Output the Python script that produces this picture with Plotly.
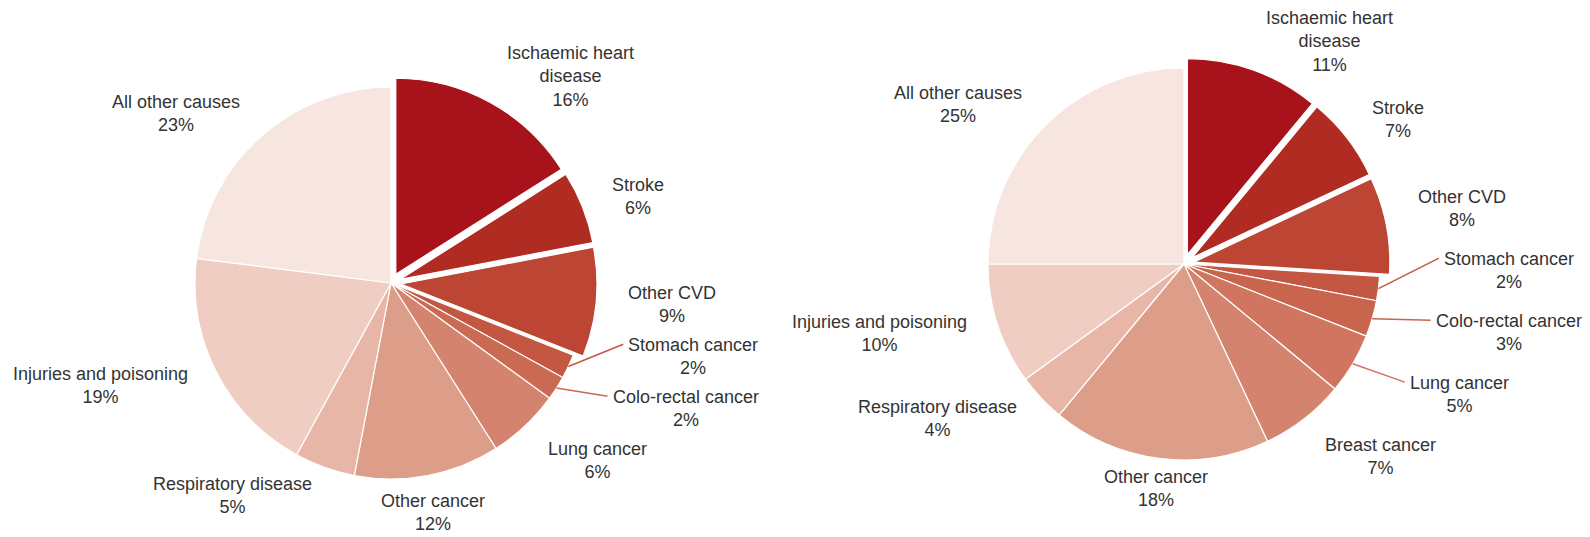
import math
import plotly.graph_objects as go

# ---------------- data ----------------
left_causes = ["Ischaemic heart disease", "Stroke", "Other CVD", "Stomach cancer",
               "Colo-rectal cancer", "Lung cancer", "Other cancer", "Respiratory disease",
               "Injuries and poisoning", "All other causes"]
left_values = [16, 6, 9, 2, 2, 6, 12, 5, 19, 23]

right_causes = ["Ischaemic heart disease", "Stroke", "Other CVD", "Stomach cancer",
                "Colo-rectal cancer", "Lung cancer", "Breast cancer", "Other cancer",
                "Respiratory disease", "Injuries and poisoning", "All other causes"]
right_values = [11, 7, 8, 2, 3, 5, 7, 18, 4, 10, 25]

pulled_causes = ["Ischaemic heart disease", "Stroke", "Other CVD"]

# ---------------- styles ----------------
cause_colors = {
    "Ischaemic heart disease": "#A8121A",
    "Stroke": "#B02B22",
    "Other CVD": "#BC4533",
    "Stomach cancer": "#C45741",
    "Colo-rectal cancer": "#C9644D",
    "Lung cancer": "#CF7560",
    "Breast cancer": "#D4846E",
    "Other cancer": "#DD9E89",
    "Respiratory disease": "#E8B6A6",
    "Injuries and poisoning": "#EFCDC2",
    "All other causes": "#F7E6E0",
}
left_colors_override = {"Colo-rectal cancer": "#CB6A52", "Lung cancer": "#D4846E"}
display_text = {"Ischaemic heart disease": "Ischaemic heart<br>disease"}

W, H = 1590, 537
PULL = 0.051
D = 30          # label distance from the pie edge
LINE = 24       # label line height
FONT = dict(family="Liberation Sans, Arial, Helvetica, sans-serif", size=18, color="#333333")

pies = [
    dict(causes=left_causes, values=left_values, cx=391, cy=283, R=196,
         override=left_colors_override, pad=4),
    dict(causes=right_causes, values=right_values, cx=1184, cy=264, R=196,
         override={}, pad=14),
]


def distribute(items, top, bottom, pad):
    """Spread labels on one side vertically so that they do not overlap."""
    items = sorted(items, key=lambda it: it["nat_y"])
    groups = [[it] for it in items]

    def gap(a, b):
        return (a["h"] + b["h"]) / 2 + pad

    def place(g):
        offs = [0.0]
        for a, b in zip(g, g[1:]):
            offs.append(offs[-1] + gap(a, b))
        start = sum(it["nat_y"] - o for it, o in zip(g, offs)) / len(g)
        start = max(start, top + g[0]["h"] / 2)
        start = min(start, bottom - g[-1]["h"] / 2 - offs[-1])
        for it, o in zip(g, offs):
            it["y"] = start + o

    changed = True
    while changed:
        changed = False
        for g in groups:
            place(g)
        for i in range(len(groups) - 1):
            a, b = groups[i][-1], groups[i + 1][0]
            if b["y"] - a["y"] < gap(a, b) - 0.01:
                groups[i] = groups[i] + groups[i + 1]
                del groups[i + 1]
                changed = True
                break
    for g in groups:
        for it in g:
            it["grouped"] = len(g) > 1
    return items


fig = go.Figure()
annotations = []
shapes = []

for pie in pies:
    causes, values = pie["causes"], pie["values"]
    cx, cy, R = pie["cx"], pie["cy"], pie["R"]
    colors = [pie["override"].get(c, cause_colors[c]) for c in causes]
    pulls = [PULL if c in pulled_causes else 0 for c in causes]
    half = R * (1 + PULL)
    fig.add_trace(go.Pie(
        labels=causes, values=values, sort=False, direction="clockwise", rotation=0,
        pull=pulls, textinfo="none", showlegend=False,
        marker=dict(colors=colors, line=dict(color="white", width=1.2)),
        domain=dict(x=[(cx - half) / W, (cx + half) / W],
                    y=[1 - (cy + half) / H, 1 - (cy - half) / H]),
        hovertemplate="%{label}: %{value}%<extra></extra>",
    ))

    total = sum(values)
    cum = 0
    items = []
    for c, v, p, col in zip(causes, values, pulls, colors):
        mid = (cum + v / 2) / total * 2 * math.pi
        cum += v
        s, k = math.sin(mid), -math.cos(mid)
        off = p * R
        ox, oy = cx + off * s, cy + off * k
        text = display_text.get(c, c) + "<br>" + f"{v}%"
        n = text.count("<br>") + 1
        items.append(dict(cause=c, value=v, s=s, k=k, ox=ox, oy=oy, color=col,
                          text=text, n=n, h=n * LINE,
                          nat_x=ox + (R + D) * s, nat_y=oy + (R + D) * k))

    right_side = [it for it in items if it["s"] >= 0]
    left_side = [it for it in items if it["s"] < 0]
    distribute(right_side, 0, H + 2, pie["pad"])
    distribute(left_side, 0, H + 2, pie["pad"])

    for it in items:
        s = it["s"]
        connector = it["value"] <= 5 and it["grouped"]
        if connector:
            x = it["ox"] + (R + D + 34) * s
        else:
            x = it["nat_x"]
        y = it["y"]
        if abs(s) < 0.3:
            xanchor = "center"
        elif s > 0:
            xanchor = "left"
        else:
            xanchor = "right"
        annotations.append(dict(
            x=x / W, y=1 - y / H, xref="paper", yref="paper", text=it["text"],
            showarrow=False, xanchor=xanchor, yanchor="middle", align="center",
            font=FONT))
        if connector:
            sx, sy = it["ox"] + R * s, it["oy"] + R * it["k"]
            ex = x - 3 if s > 0 else x + 3
            ey = y - (it["n"] - 1) * LINE / 2
            shapes.append(dict(type="line", xref="paper", yref="paper",
                               x0=sx / W, y0=1 - sy / H, x1=ex / W, y1=1 - ey / H,
                               line=dict(color=it["color"], width=1.5)))

fig.update_layout(
    width=W, height=H, autosize=False,
    margin=dict(l=0, r=0, t=0, b=0),
    paper_bgcolor="white", plot_bgcolor="white",
    annotations=annotations, shapes=shapes,
)

fig.write_html("out.html", config={"displayModeBar": False},
               post_script="document.body.style.margin='0px';")
